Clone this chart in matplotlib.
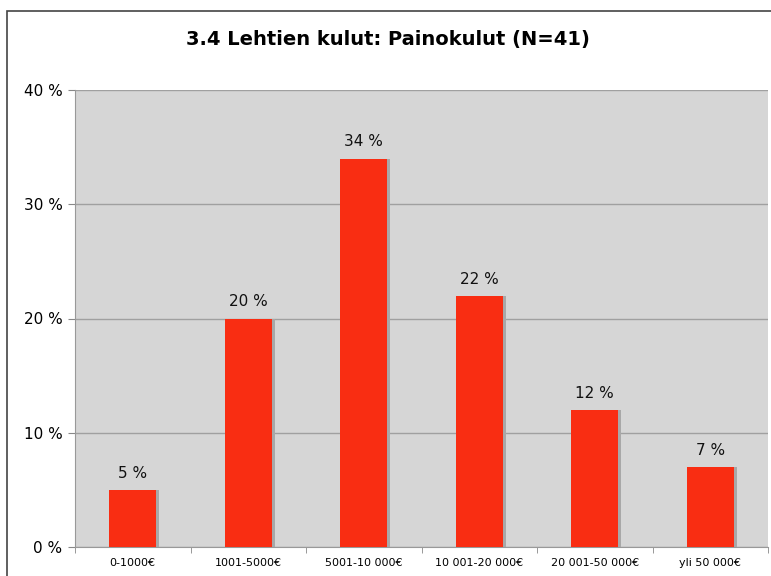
import numpy as np
import matplotlib.pyplot as plt
from matplotlib.patches import Rectangle

categories = ['0-1000€', '1001-5000€', '5001-10 000€', '10 001-20 000€', '20 001-50 000€', 'yli 50 000€']
values = [5, 20, 34, 22, 12, 7]
y_ticks = [0, 10, 20, 30, 40]

fig = plt.figure(figsize=(7.71, 5.76), dpi=100)
ax = fig.add_axes([75 / 771, 1 - 547 / 576, (768 - 75) / 771, (547 - 90) / 576])

# outer frame of the chart
fig.patches.append(Rectangle((7 / 771, -0.1), 1.2, 1 - 11 / 576 + 0.1, transform=fig.transFigure,
                             fill=False, edgecolor='#444444', linewidth=1.2))

x = np.arange(len(categories))
bar_w = 0.41
# shadow behind the bars
ax.bar(x + 0.025, values, width=bar_w, color='#a8a8a8', zorder=2)
ax.bar(x, values, width=bar_w, color='#f92d12', zorder=3)

for xi, v in zip(x, values):
    ax.text(xi, v + 0.8, '%d %%' % v, ha='center', va='bottom', fontsize=11, color='#111111')

ax.set_facecolor('#d6d6d6')
ax.set_xlim(-0.5, len(categories) - 0.5)
ax.set_ylim(0, 40)
ax.set_yticks(y_ticks)
ax.set_yticklabels(['%d %%' % t for t in y_ticks], fontsize=11)
ax.yaxis.grid(True, color='#a0a0a0', linewidth=1, zorder=1)
ax.set_axisbelow(True)

ax.set_xticks(x)
ax.set_xticklabels(categories, fontsize=8)
ax.tick_params(axis='x', length=0, pad=8)
ax.set_xticks(np.arange(len(categories) + 1) - 0.5, minor=True)
ax.tick_params(axis='x', which='minor', length=4, color='#888888')
ax.tick_params(axis='y', length=5, color='#888888', pad=4)

for s in ['top', 'right']:
    ax.spines[s].set_visible(False)
for s in ['left', 'bottom']:
    ax.spines[s].set_color('#999999')

fig.text(388 / 771, 1 - 40 / 576, '3.4 Lehtien kulut: Painokulut (N=41)', ha='center', va='center',
         fontsize=14, fontweight='bold')

plt.savefig('out.png', dpi=100)
